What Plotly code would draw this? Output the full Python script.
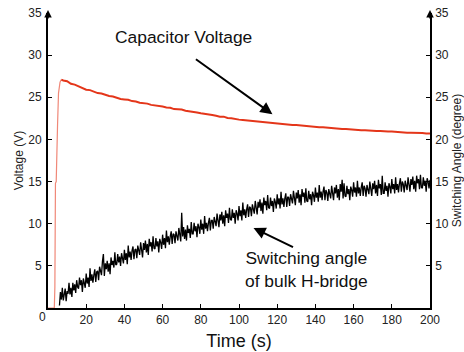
import plotly.graph_objects as go

# ---- data ----
red_rise_t = [0, 3.3, 3.6, 3.9, 4.3, 4.6, 5.0, 5.5, 6.3, 7.0]
red_rise_v = [0, 0, 2.5, 14.8, 15.0, 21.5, 21.7, 25.5, 26.8, 27.1]

red_t = [7] + list(range(8, 201, 2))
red_v = [27.1,
         27.0, 26.9, 26.6, 26.5, 26.3, 26.1, 25.9, 25.85, 25.7, 25.5, 25.45, 25.3,
         25.15, 25.1, 24.95, 24.8, 24.75, 24.7, 24.55, 24.5, 24.35, 24.3,
         24.25, 24.1, 24.05, 23.95, 23.9, 23.8, 23.75, 23.6, 23.6, 23.55,
         23.4, 23.35, 23.25, 23.2, 23.1, 23.05, 22.95, 22.9, 22.8, 22.7,
         22.7, 22.55, 22.5, 22.4, 22.35, 22.3, 22.25, 22.2, 22.15, 22.1,
         22.05, 22.0, 21.95, 21.95, 21.9, 21.85, 21.8, 21.75, 21.7, 21.7,
         21.65, 21.6, 21.55, 21.55, 21.5, 21.45, 21.45, 21.4, 21.35, 21.35,
         21.3, 21.25, 21.25, 21.2, 21.2, 21.15, 21.1, 21.1, 21.05, 21.05,
         21.0, 21.0, 20.95, 20.95, 20.95, 20.9, 20.85, 20.85, 20.8, 20.8,
         20.8, 20.75, 20.75, 20.7, 20.7]

# switching angle sampled every 0.5 s from t = 6 s to t = 200 s
angle_t = [6 + 0.5 * i for i in range(389)]
angle_v = [
    0.3, 1.9, 1.0, 2.4, 0.9, 1.6, 2.3, 0.8, 2.0, 1.7, 3.0, 1.6, 2.4, 1.3, 3.0, 2.1, 2.8, 1.8, 3.3, 2.5,
    2.3, 3.6, 2.7, 3.3, 1.9, 3.5, 3.1, 2.4, 4.1, 2.9, 3.6, 2.5, 4.7, 3.2, 4.0, 3.0, 3.9, 4.6, 3.1, 4.3,
    4.4, 3.3, 4.9, 4.3, 3.9, 5.5, 6.4, 3.8, 5.3, 4.6, 5.6, 4.3, 5.3, 4.0, 6.0, 5.1, 5.6, 4.8, 6.6, 5.1,
    5.2, 6.4, 5.4, 6.1, 5.0, 6.5, 6.0, 5.3, 6.9, 5.7, 6.5, 5.2, 7.4, 6.0, 6.7, 5.7, 6.8, 7.3, 5.8, 6.9,
    7.0, 5.9, 7.4, 6.8, 6.3, 7.8, 6.6, 6.0, 7.7, 6.9, 8.0, 6.6, 7.6, 6.3, 8.2, 7.3, 7.8, 6.7, 8.5, 7.1,
    7.0, 8.3, 7.3, 7.9, 6.6, 8.2, 7.8, 7.0, 8.7, 7.5, 8.3, 7.1, 9.2, 7.8, 8.5, 7.5, 8.5, 9.1, 7.6, 8.8,
    8.7, 7.7, 9.1, 8.6, 8.0, 9.5, 8.4, 7.9, 11.3, 8.5, 9.6, 8.2, 9.3, 8.0, 9.8, 8.9, 9.4, 8.3, 10.2, 8.8,
    8.8, 10.1, 9.1, 9.7, 8.4, 10.0, 9.6, 8.8, 10.5, 9.3, 10.0, 8.8, 10.9, 9.4, 10.1, 9.1, 10.1, 10.7, 9.2, 10.4,
    10.4, 9.4, 10.8, 10.3, 9.7, 11.2, 10.1, 9.6, 11.1, 10.4, 11.4, 10.0, 11.0, 9.7, 11.6, 10.7, 11.2, 10.1, 11.9, 10.5,
    10.4, 11.7, 10.7, 11.3, 10.0, 11.6, 11.2, 10.4, 12.1, 10.9, 11.6, 10.4, 12.5, 11.0, 11.7, 10.7, 11.7, 12.3, 10.8, 12.0,
    11.9, 10.9, 12.3, 11.8, 11.2, 12.7, 11.6, 11.1, 12.6, 11.9, 12.9, 11.5, 12.5, 11.2, 13.1, 12.2, 12.7, 11.6, 13.4, 11.9,
    11.8, 13.1, 12.1, 12.7, 11.4, 13.0, 12.6, 11.8, 13.5, 12.3, 13.0, 11.8, 13.8, 12.3, 13.0, 12.0, 13.0, 13.6, 12.0, 13.2,
    13.1, 12.1, 13.5, 13.0, 12.4, 13.9, 12.8, 12.2, 13.7, 13.0, 14.0, 12.5, 13.5, 12.2, 14.1, 13.2, 13.7, 12.5, 14.2, 12.7,
    12.6, 13.9, 12.9, 13.5, 12.2, 13.8, 13.4, 12.6, 14.3, 13.1, 13.7, 12.6, 14.6, 13.1, 13.8, 12.8, 13.8, 14.4, 12.8, 14.0,
    13.7, 12.7, 14.1, 13.6, 13.0, 14.5, 13.4, 12.8, 14.3, 13.6, 14.6, 13.1, 14.1, 12.8, 14.7, 13.8, 15.2, 13.0, 14.8, 13.3,
    13.2, 14.5, 13.5, 14.1, 12.8, 14.4, 14.0, 13.2, 14.9, 13.7, 14.3, 13.2, 15.1, 13.6, 14.3, 13.3, 14.3, 14.9, 13.3, 14.5,
    14.2, 13.2, 14.6, 14.1, 13.5, 15.0, 13.9, 13.3, 14.8, 14.1, 15.1, 13.6, 14.6, 13.3, 15.2, 14.2, 14.7, 13.4, 15.7, 13.6,
    13.6, 14.9, 13.9, 14.5, 13.2, 14.8, 14.4, 13.6, 15.3, 14.1, 14.7, 13.6, 15.5, 14.0, 14.7, 13.7, 14.8, 15.4, 13.8, 15.0,
    14.7, 13.7, 15.1, 14.6, 14.0, 15.5, 14.4, 13.8, 15.3, 14.6, 15.6, 14.1, 15.1, 13.8, 15.7, 14.8, 15.3, 14.1, 15.8, 14.3,
    14.2, 15.5, 14.5, 15.1, 13.8, 15.4, 15.0, 14.2, 15.2,
]

x_ticks = [20, 40, 60, 80, 100, 120, 140, 160, 180, 200]
y_ticks = [5, 10, 15, 20, 25, 30, 35]

FONT = "Liberation Sans, Arial, sans-serif"
RED = "#e4361a"

fig = go.Figure()
fig.add_trace(go.Scatter(x=red_rise_t, y=red_rise_v, mode="lines",
                         line=dict(color="#f08878", width=1.2), showlegend=False))
fig.add_trace(go.Scatter(x=red_t, y=red_v, mode="lines",
                         line=dict(color=RED, width=2), showlegend=False))
fig.add_trace(go.Scatter(x=angle_t, y=angle_v, mode="lines",
                         line=dict(color="black", width=1.3), showlegend=False,
                         yaxis="y2"))

axis_common = dict(showgrid=False, zeroline=False, ticks="inside", ticklen=4,
                   tickcolor="black", automargin=False,
                   tickfont=dict(family=FONT, size=12, color="#222"))

fig.update_layout(
    width=464, height=352,
    margin=dict(l=48, r=34, t=13, b=44),
    plot_bgcolor="white", paper_bgcolor="white",
    xaxis=dict(range=[0, 200], tickvals=x_ticks, showline=True, linecolor="black",
               linewidth=2, title=dict(text="Time (s)", font=dict(family=FONT, size=18, color="#111"),
                                       standoff=8), **axis_common),
    yaxis=dict(range=[0, 35], tickvals=y_ticks, showline=True, linecolor="black",
               linewidth=2, ticklabelstandoff=2,
               title=dict(text="Voltage (V)", font=dict(family=FONT, size=12, color="#222"),
                          standoff=2), **axis_common),
    yaxis2=dict(range=[0, 35], tickvals=y_ticks, overlaying="y", side="right",
                showline=True, linecolor="black", linewidth=1.5, ticklabelstandoff=1,
                title=dict(text="Switching Angle (degree)",
                           font=dict(family=FONT, size=12, color="#222"), standoff=8),
                **axis_common),
)

# corner "0" label
fig.add_annotation(x=0, y=0, xref="x", yref="y", text="0", showarrow=False,
                   xshift=-6, yshift=-9, font=dict(family=FONT, size=12, color="#222"))

# axis arrowheads
for xv in (0, 200):
    fig.add_annotation(x=xv, y=35, xref="x", yref="y", ax=0, ay=10, axref="pixel",
                       ayref="pixel", showarrow=True, arrowhead=2, arrowsize=1,
                       arrowwidth=1.5, arrowcolor="black", text="", yshift=3)

# text callouts
fig.add_annotation(x=34, y=32.1, xref="x", yref="y", text="Capacitor Voltage",
                   showarrow=False, xanchor="left", yanchor="middle",
                   font=dict(family=FONT, size=17.4, color="#111"))
fig.add_annotation(x=117.5, y=23.0, xref="x", yref="y", ax=-78, ay=-56,
                   showarrow=True, arrowhead=2, arrowsize=1.2, arrowwidth=2,
                   arrowcolor="black", text="")
fig.add_annotation(x=135.2, y=4.6, xref="x", yref="y",
                   text="Switching angle<br>of bulk H-bridge", showarrow=False,
                   xanchor="center", yanchor="middle",
                   font=dict(family=FONT, size=17.4, color="#111"), align="center")
fig.add_annotation(x=107.6, y=9.5, xref="x", yref="y", ax=41, ay=20,
                   showarrow=True, arrowhead=2, arrowsize=1.2, arrowwidth=2,
                   arrowcolor="black", text="")

fig.write_html("out.html")
